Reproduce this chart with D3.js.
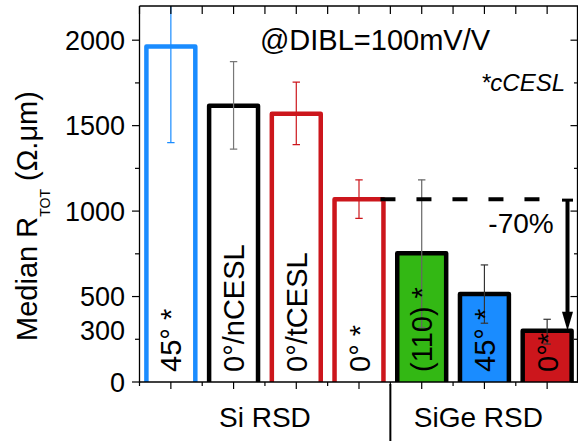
<!DOCTYPE html>
<html>
<head>
<meta charset="utf-8">
<script src="https://cdn.jsdelivr.net/npm/d3@7"></script>
<style>
  html, body { margin: 0; padding: 0; background: #fff; }
  svg { display: block; font-family: "Liberation Sans", Arial, sans-serif; }
</style>
</head>
<body>
<svg id="chart" width="578" height="441"></svg>
<script>
// bars, left to right
const barKeys = ['b1', 'b2', 'b3', 'b4', 'b5', 'b6', 'b7']
const barLabels = ['45° *', '0°/nCESL', '0°/tCESL', '0° *', '(110) *', '45° *', '0°*']
const medians = [1963, 1616, 1569, 1070, 753, 515, 300]
const errLow = [1401, 1362, 1389, 957, 318, 344, 222]
const errHigh = [2300, 1875, 1755, 1183, 1183, 685, 367]
const filled = [false, false, false, false, true, true, true]
const barColors = ['#1a8cff', '#000000', '#cc161c', '#cc161c', '#33b814', '#1a8cff', '#cc161c']
const errColors = ['#1a8cff', '#777777', '#cc161c', '#cc161c', '#666666', '#333333', '#333333']

const yMajor = [0, 500, 1000, 1500, 2000]
const yMinor = [250, 750, 1250, 1750]
const yLabels = [0, 300, 500, 1000, 1500, 2000]

const groups = [
  {name: 'Si RSD', from: 0, to: 3},
  {name: 'SiGe RSD', from: 4, to: 6}
]
const dropFrom = 3, dropTo = 6, dropText = '-70%'

const rows = barKeys.map((k, i) => ({
  key: k, label: barLabels[i], v: medians[i], lo: errLow[i], hi: errHigh[i],
  filled: filled[i], color: barColors[i], ecolor: errColors[i]
}))

const svg = d3.select('#chart')
const m = {left: 139.5, right: 578.5, top: 6, bottom: 382}

const x = d3.scaleBand().domain(barKeys).range([m.left, m.right]).padding(0)
const y = d3.scaleLinear().domain([0, 2200]).range([m.bottom, m.top])
const bw = x.bandwidth() * 0.78
const cx = k => x(k) + x.bandwidth() / 2

svg.append('defs').append('clipPath').attr('id', 'plotclip')
  .append('rect')
  .attr('x', m.left).attr('y', m.top)
  .attr('width', m.right - m.left).attr('height', m.bottom - m.top)

const plot = svg.append('g').attr('clip-path', 'url(#plotclip)')

// bars
const bars = plot.selectAll('g.bar')
  .data(rows)
  .enter()
  .append('g')
  .attr('class', 'bar')

bars.filter(d => d.filled)
  .append('rect')
  .attr('x', d => cx(d.key) - bw / 2)
  .attr('y', d => y(d.v))
  .attr('width', bw)
  .attr('height', d => y(0) - y(d.v) + 4)
  .attr('fill', d => d.color)

bars.append('path')
  .attr('d', d => {
    let x0 = cx(d.key) - bw / 2
    let x1 = x0 + bw
    let top = y(d.v)
    return 'M' + x0 + ',' + (y(0) + 4) + 'V' + top + 'H' + x1 + 'V' + (y(0) + 4)
  })
  .attr('fill', 'none')
  .attr('stroke', d => d.filled ? '#000' : d.color)
  .attr('stroke-width', 4.5)
  .attr('stroke-linejoin', 'round')

// error bars
const err = plot.selectAll('g.err')
  .data(rows)
  .enter()
  .append('g')
  .attr('class', 'err')
  .attr('stroke', d => d.ecolor)
  .attr('stroke-width', 1.2)

err.append('line')
  .attr('x1', d => cx(d.key))
  .attr('x2', d => cx(d.key))
  .attr('y1', d => y(d.lo))
  .attr('y2', d => y(d.hi))

err.selectAll('line.cap')
  .data(d => [d.lo, d.hi].map(v => ({key: d.key, v: v})))
  .enter()
  .append('line')
  .attr('class', 'cap')
  .attr('x1', d => cx(d.key) - 3.7)
  .attr('x2', d => cx(d.key) + 3.7)
  .attr('y1', d => y(d.v))
  .attr('y2', d => y(d.v))

// bar labels, rotated
svg.append('g')
  .selectAll('text')
  .data(rows)
  .enter()
  .append('text')
  .attr('transform', d => 'translate(' + (cx(d.key) + 10.5) + ',' + (y(0) - 10) + ') rotate(-90)')
  .attr('font-size', 29)
  .attr('fill', '#000')
  .text(d => d.label)

// axes
const axes = svg.append('g').attr('stroke', '#000').attr('fill', 'none')
axes.append('line').attr('x1', m.left).attr('x2', m.left).attr('y1', m.top).attr('y2', m.bottom + 1).attr('stroke-width', 1.3)
axes.append('line').attr('x1', m.left).attr('x2', m.right).attr('y1', m.bottom).attr('y2', m.bottom).attr('stroke-width', 1.3)
axes.append('line').attr('x1', m.left).attr('x2', m.right).attr('y1', m.top).attr('y2', m.top).attr('stroke-width', 1.3)
axes.append('line').attr('x1', m.right - 1).attr('x2', m.right - 1).attr('y1', m.top).attr('y2', m.bottom).attr('stroke-width', 1.3)

yMajor.forEach(v => {
  axes.append('line').attr('x1', m.left - 7.5).attr('x2', m.left).attr('y1', y(v)).attr('y2', y(v)).attr('stroke-width', 1.2)
  axes.append('line').attr('x1', m.right - 8).attr('x2', m.right).attr('y1', y(v)).attr('y2', y(v)).attr('stroke-width', 1.2)
})
yMinor.forEach(v => {
  axes.append('line').attr('x1', m.left - 4.5).attr('x2', m.left).attr('y1', y(v)).attr('y2', y(v)).attr('stroke-width', 1.2)
  axes.append('line').attr('x1', m.right - 4.5).attr('x2', m.right).attr('y1', y(v)).attr('y2', y(v)).attr('stroke-width', 1.2)
})
barKeys.forEach(k => {
  let c = cx(k)
  axes.append('line').attr('x1', c).attr('x2', c).attr('y1', m.bottom).attr('y2', m.bottom + 7).attr('stroke-width', 1.2)
  axes.append('line').attr('x1', x(k)).attr('x2', x(k)).attr('y1', m.bottom).attr('y2', m.bottom + 4).attr('stroke-width', 1.2)
  axes.append('line').attr('x1', c).attr('x2', c).attr('y1', m.top).attr('y2', m.top + 8).attr('stroke-width', 1.2)
  axes.append('line').attr('x1', x(k)).attr('x2', x(k)).attr('y1', m.top).attr('y2', m.top + 8).attr('stroke-width', 1.2)
})

svg.append('g')
  .selectAll('text')
  .data(yLabels)
  .enter()
  .append('text')
  .attr('x', 125)
  .attr('y', d => y(d) + 9.5)
  .attr('text-anchor', 'end')
  .attr('font-size', 27)
  .text(d => d)

// y axis title
const yt = svg.append('text')
  .attr('transform', 'translate(37,' + ((m.top + m.bottom) / 2 + 22) + ') rotate(-90)')
  .attr('text-anchor', 'middle')
  .attr('font-size', 29)
yt.append('tspan').text('Median R')
yt.append('tspan').attr('font-size', 14).attr('dy', 13).text('TOT')
yt.append('tspan').attr('dy', -13).text(' (Ω.μm)')

// group labels and separator
groups.forEach(g => {
  let x0 = x(barKeys[g.from]), x1 = x(barKeys[g.to]) + x.bandwidth()
  svg.append('text')
    .attr('x', (x0 + x1) / 2 + (g.from === 0 ? 0 : -6))
    .attr('y', m.bottom + 45)
    .attr('text-anchor', 'middle')
    .attr('font-size', 28)
    .text(g.name)
})
svg.append('line')
  .attr('x1', x(barKeys[groups[1].from])).attr('x2', x(barKeys[groups[1].from]))
  .attr('y1', m.bottom + 2).attr('y2', 441)
  .attr('stroke', '#000').attr('stroke-width', 2)

// annotations
svg.append('text')
  .attr('x', 375).attr('y', 50)
  .attr('text-anchor', 'middle')
  .attr('font-size', 29)
  .text('@DIBL=100mV/V')

svg.append('text')
  .attr('x', 565).attr('y', 91)
  .attr('text-anchor', 'end')
  .attr('font-size', 24)
  .attr('font-style', 'italic')
  .text('*cCESL')

const dropY = y(medians[dropFrom])
const arrowX = x(barKeys[dropTo]) + x.bandwidth() - 11
const dashStart = cx(barKeys[dropFrom]) + bw / 2 - 3
svg.append('line')
  .attr('x1', dashStart).attr('x2', arrowX - 20)
  .attr('y1', dropY).attr('y2', dropY)
  .attr('stroke', '#000').attr('stroke-width', 4)
  .attr('stroke-dasharray', '15,21')

const tipY = y(medians[dropTo])
svg.append('line')
  .attr('x1', arrowX).attr('x2', arrowX)
  .attr('y1', dropY).attr('y2', tipY - 16)
  .attr('stroke', '#000').attr('stroke-width', 4)
svg.append('line')
  .attr('x1', arrowX - 5.5).attr('x2', arrowX + 5.5)
  .attr('y1', dropY + 1).attr('y2', dropY + 1)
  .attr('stroke', '#000').attr('stroke-width', 3)
svg.append('path')
  .attr('d', 'M' + (arrowX - 5.5) + ',' + (tipY - 19) + 'L' + (arrowX + 5.5) + ',' + (tipY - 19) + 'L' + arrowX + ',' + tipY + 'Z')
  .attr('fill', '#000')

svg.append('text')
  .attr('x', 521).attr('y', 233)
  .attr('text-anchor', 'middle')
  .attr('font-size', 28)
  .text(dropText)
</script>
</body>
</html>
